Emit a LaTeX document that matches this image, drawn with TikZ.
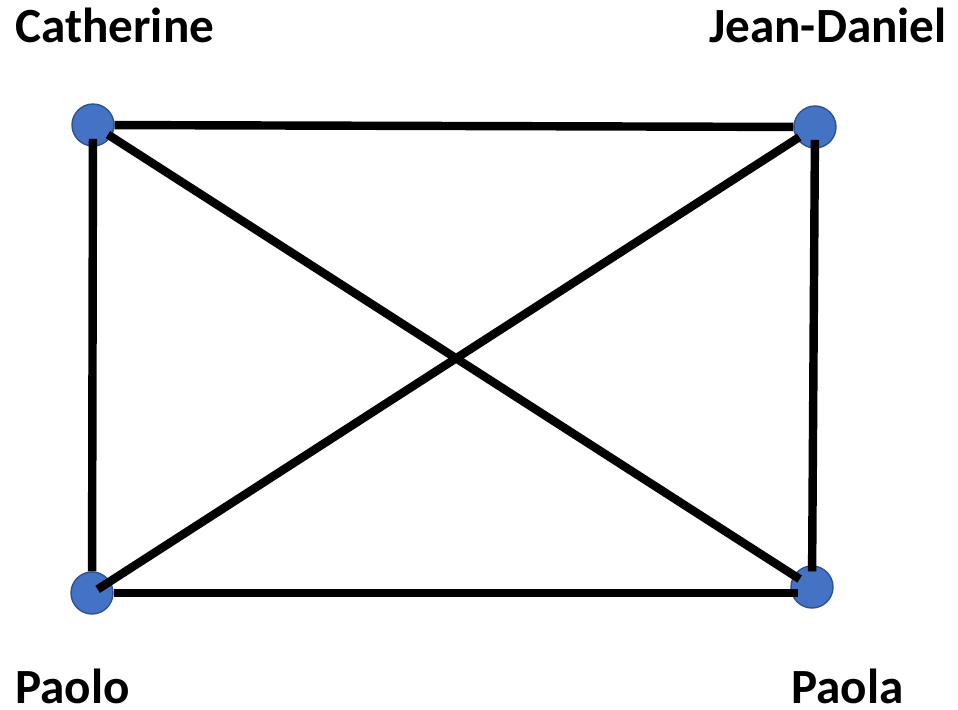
\documentclass[tikz,border=0pt]{standalone}
\usepackage{fontspec}
\setmainfont{Carlito}
\usetikzlibrary{positioning, calc}
\definecolor{nodeblue}{HTML}{4472C4}
\definecolor{nodeline}{HTML}{2F528F}
\tikzset{
    person/.style={circle, fill=nodeblue, draw=nodeline, line width=0.8pt, minimum size=0.84cm, inner sep=0pt}, % the blue dots
    pname/.style={font=\fontsize{28}{32}\selectfont\bfseries, inner sep=0pt},
    link/.style={line width=4.8pt, draw=black}
}

\begin{document}
\begin{tikzpicture}[x=0.02cm, y=-0.02cm]
            \useasboundingbox (0,0) rectangle (958,710);
            \node[person] (cat) at (93,125) {};
            \node[person] (jd) at (815,127) {};
            \node[person] (pao) at (92,593) {};
            \node[person] (pla) at (812,587) {};

            \node[pname, anchor=base west] (lcat) at (15,42) {Catherine};
            \node[pname, anchor=base east] (ljd) at (947,42) {Jean-Daniel};
            \node[pname, anchor=base west] (lpao) at (15,703) {Paolo};
            \node[pname, anchor=base east] (lpla) at (904,703) {Paola};

            \draw[link] (cat) edge (jd);
            \draw[link] (cat) edge[shorten <=-4.5pt] (pao);
            \draw[link] (cat) edge[shorten <=-2.3pt, shorten >=-4pt] (pla);
            \draw[link] (jd) edge[shorten <=-1.7pt, shorten >=-8.5pt] (pao);
            \draw[link] (jd) edge[shorten <=-5pt, shorten >=-3.4pt] (pla);
            \draw[link] (pao) edge[shorten >=8pt] (pao -| pla);
        \end{tikzpicture}
\end{document}
